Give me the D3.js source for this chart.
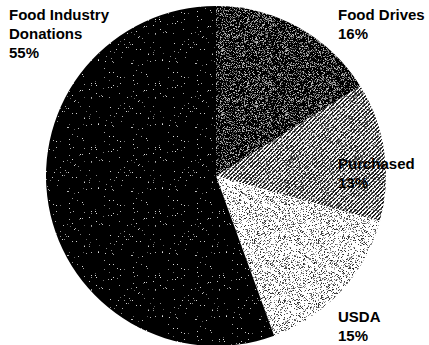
<!DOCTYPE html>
<html>
<head>
<meta charset="utf-8">
<script src="https://cdn.jsdelivr.net/npm/d3@7/dist/d3.min.js"></script>
<style>
  html, body { margin: 0; padding: 0; background: #fff; }
  svg { display: block; }
  .lbl { font-family: "Liberation Sans", Arial, Helvetica, sans-serif; font-weight: bold; font-size: 15px; fill: #000; }
</style>
</head>
<body>
<svg id="chart" width="429" height="345"></svg>
<script>
// Sources of food, share of total (%)
const categories = ["Food Drives", "Purchased", "USDA", "Food Industry Donations"];
const shares = [16, 13, 15, 55];
const labelNames = [["Food Drives"], ["Purchased"], ["USDA"], ["Food Industry", "Donations"]];

const W = 429, H = 345;
const cx = 216, cy = 176, R = 170;

const svg = d3.select("#chart");
const defs = svg.append("defs");

// Deterministic per-pixel grain used for the print-like screen textures
function grain(i, j, s) {
  let h = (Math.imul(i, 374761393) + Math.imul(j, 668265263) + Math.imul(s, 144665)) | 0;
  h = Math.imul(h ^ (h >>> 13), 1274126177);
  h ^= h >>> 16;
  return (h >>> 0) / 4294967296;
}
const grey = v => { const c = Math.max(0, Math.min(255, Math.round(v))); return `rgb(${c},${c},${c})`; };

const T = 64;
function makeTexture(id, bg, pixelFn) {
  const p = defs.append("pattern")
    .attr("id", id)
    .attr("patternUnits", "userSpaceOnUse")
    .attr("width", T).attr("height", T);
  p.append("rect").attr("width", T).attr("height", T).attr("fill", bg);
  const px = [];
  for (let y = 0; y < T; y++) for (let x = 0; x < T; x++) {
    const c = pixelFn(x, y);
    if (c) px.push({x, y, c});
  }
  p.selectAll("rect.px").data(px).join("rect")
    .attr("class", "px")
    .attr("x", d => d.x).attr("y", d => d.y)
    .attr("width", 1).attr("height", 1)
    .attr("shape-rendering", "crispEdges")
    .attr("fill", d => d.c);
}

// Food Drives: dense dark stipple
makeTexture("tex0", "#000", (x, y) => {
  const g = grain(x, y, 1);
  return g < 0.36 ? grey(50 + grain(x, y, 2) * 150) : null;
});
// Purchased: diagonal hatching
makeTexture("tex1", "#fff", (x, y) => {
  const onLine = ((x + y) % 4) < 2;
  const g = grain(x, y, 3);
  if (onLine) return g < 0.15 ? grey(110 + g * 400) : grey(g * 60);
  return g < 0.25 ? grey(110 + g * 300) : null;
});
// USDA: light stipple
makeTexture("tex2", "#fff", (x, y) => {
  const g = grain(x, y, 4);
  const p = ((x + y) % 3 === 0) ? 0.4 : 0.2;
  return g < p ? grey(30 + grain(x, y, 5) * 150) : null;
});
// Food Industry Donations: black with sparse light specks
makeTexture("tex3", "#000", (x, y) => {
  const g = grain(x, y, 6);
  return g < 0.025 ? grey(90 + grain(x, y, 7) * 140) : null;
});

const pie = d3.pie().sort(null).value(d => d)(shares);
const arc = d3.arc().innerRadius(0).outerRadius(R);

const g = svg.append("g").attr("transform", `translate(${cx},${cy})`);
g.selectAll("path.slice").data(pie).join("path")
  .attr("class", "slice")
  .attr("d", arc)
  .attr("fill", (d, i) => `url(#tex${i})`);

// Callout labels, placed beside the pie
const labelAnchors = [
  {x: 338, y: 19.5},
  {x: 338, y: 169},
  {x: 338, y: 322},
  {x: 9, y: 19.5}
];
const lineH = 19;
categories.forEach((c, i) => {
  const lines = labelNames[i].concat([`${shares[i]}%`]);
  const t = svg.append("text").attr("class", "lbl")
    .attr("x", labelAnchors[i].x).attr("y", labelAnchors[i].y);
  lines.forEach((ln, k) => {
    t.append("tspan").attr("x", labelAnchors[i].x).attr("dy", k === 0 ? 0 : lineH).text(ln);
  });
});
</script>
</body>
</html>
